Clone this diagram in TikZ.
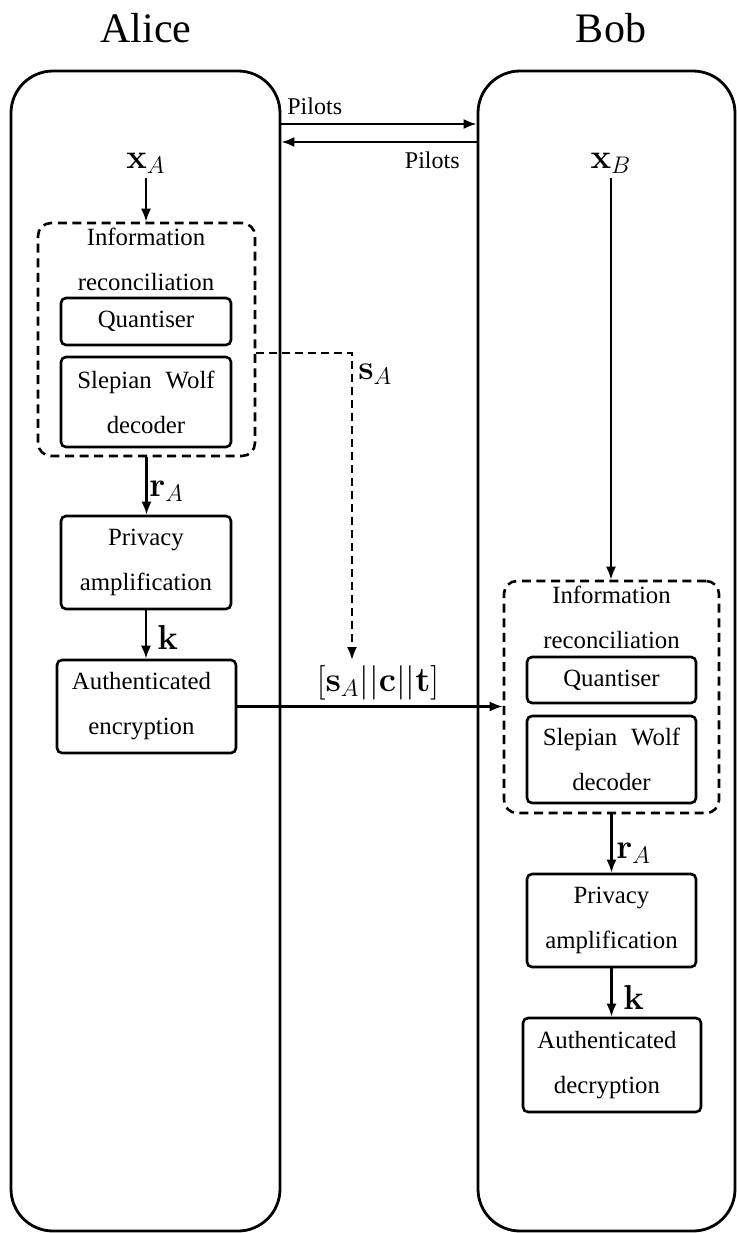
\documentclass[tikz,border=0pt]{standalone}
\usepackage[no-math]{fontspec}
\setmainfont{Liberation Serif}
\usetikzlibrary{arrows.meta,calc}
\newcommand\txtfont{\fontsize{12.4}{22.5}\selectfont}
\newcommand\mthfont{\fontsize{18}{22}\selectfont}
\begin{document}
\begin{tikzpicture}[x=0.5pt,y=-0.5pt,
  container/.style={draw,line width=1.4pt,rounded corners=21pt,inner sep=0pt},
  block/.style={draw,line width=1.3pt,rounded corners=2.5pt,inner sep=0pt,align=center,font=\txtfont},
  dashbox/.style={draw,line width=1.3pt,dash pattern=on 4.5pt off 2.8pt,rounded corners=6.5pt,inner sep=0pt},
  boxtitle/.style={inner sep=0pt,align=center,font=\txtfont},
  arr/.style={line width=1.05pt,-{Latex[length=6.5pt,width=5pt]}},
  darr/.style={arr,dash pattern=on 4pt off 2.5pt},
  mlab/.style={font=\mthfont,inner sep=0pt},
  title/.style={font=\fontsize{21}{25}\selectfont,inner sep=0pt},
  plab/.style={font=\fontsize{12}{14}\selectfont,inner sep=0pt}]
\useasboundingbox (0,0) rectangle (736,1233);

% titles
\node[title,anchor=base] (alicet) at (146,42) {Alice};
\node[title,anchor=base] (bobt) at (611,42) {Bob};

% containers
\node[container,minimum width=134.5pt,minimum height=580pt] (alice) at (145.5,651) {};
\node[container,minimum width=128.5pt,minimum height=580pt] (bob) at (606.5,651) {};

% pilots
\coordinate (p1) at (0,124);
\coordinate (p2) at (0,142);
\draw[arr] (alice.east |- p1) -- (bob.west |- p1);
\draw[arr] (bob.west |- p2) -- (alice.east |- p2);
\node[plab,anchor=base west] (pil1) at (287,114) {Pilots};
\node[plab,anchor=base east] (pil2) at (460,168) {Pilots};

% Alice side
\node[mlab,inner sep=2pt] (xA) at (146,163) {$\mathbf{x}_A$};
\node[dashbox,minimum width=108.5pt,minimum height=116.5pt] (irA) at (146.5,339.5) {};
\node[boxtitle] (irAt) at (146,259) {Information\\reconciliation};
\node[block,minimum width=85pt,minimum height=23.5pt] (qA) at (146,321.5) {Quantiser};
\node[block,minimum width=85pt,minimum height=45pt] (swA) at (146,402) {Slepian\hspace{7pt}Wolf\\decoder};
\node[block,minimum width=85pt,minimum height=46.5pt] (paA) at (146,562.5) {Privacy\\amplification};
\node[block,minimum width=89.5pt,minimum height=46.5pt] (aeA) at (146.5,706.5) {Authenticated\kern5pt\\encryption\kern5pt};

\draw[arr] (xA.south) -- (xA.south |- irA.north);
\draw[arr] (irA.south) -- (irA.south |- paA.north);
\draw[arr] (paA.south) -- (paA.south |- aeA.north);
\node[mlab,anchor=west] (rAl) at (149,491) {$\mathbf{r}_A$};
\node[mlab,anchor=west] (kAl) at (157,637) {$\mathbf{k}$};

% s_A dashed connector
\coordinate (sAc) at (352,352.7);
\coordinate (sAend) at (352,660);
\draw[darr] (irA.east |- sAc) -- (sAc) -- (sAend);
\node[mlab,anchor=west] (sAl) at (358,374) {$\mathbf{s}_A$};

% Bob side
\node[mlab,inner sep=2pt] (xB) at (611,163) {$\mathbf{x}_B$};
\node[dashbox,minimum width=107.5pt,minimum height=116pt] (irB) at (611.5,697) {};
\node[boxtitle] (irBt) at (611.5,617) {Information\\reconciliation};
\node[block,minimum width=84.5pt,minimum height=23pt] (qB) at (611.5,680) {Quantiser};
\node[block,minimum width=84.5pt,minimum height=43.5pt] (swB) at (611.5,759.5) {Slepian\hspace{7pt}Wolf\\decoder};
\node[block,minimum width=84.5pt,minimum height=46.5pt] (paB) at (611.5,920.5) {Privacy\\amplification};
\node[block,minimum width=89pt,minimum height=47pt] (adB) at (612,1065) {Authenticated\kern5pt\\decryption\kern5pt};

\draw[arr] (xB.south) -- (xB.south |- irB.north);
\draw[arr] (irB.south) -- (irB.south |- paB.north);
\draw[arr] (paB.south) -- (paB.south |- adB.north);
\node[mlab,anchor=west] (rBl) at (616,853) {$\mathbf{r}_A$};
\node[mlab,anchor=west] (kBl) at (623,997) {$\mathbf{k}$};

% message
\draw[arr] (aeA.east) -- (aeA.east -| irB.west);
\node[mlab] (ctl) at (378,683) {$[\mathbf{s}_A||\mathbf{c}||\mathbf{t}]$};
\end{tikzpicture}
\end{document}
